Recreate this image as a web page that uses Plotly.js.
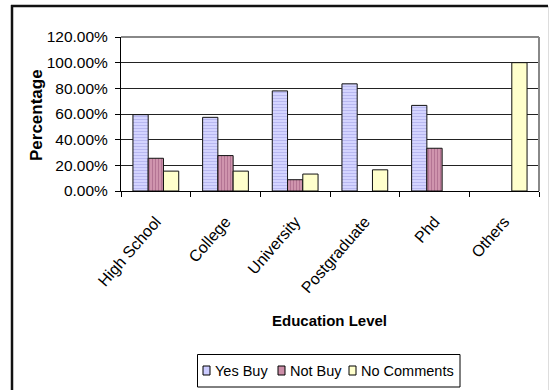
<!DOCTYPE html>
<html><head><meta charset="utf-8">
<script src="https://cdn.plot.ly/plotly-3.0.1.min.js"></script>
<style>html,body{margin:0;padding:0;background:#fff}#chart{width:549px;height:390px}</style>
</head><body><div id="chart"></div>
<script>
const categories = ["High School", "College", "University", "Postgraduate", "Phd", "Others"];
const yesBuy = [0.595, 0.574, 0.780, 0.835, 0.667, null];
const notBuy = [0.255, 0.276, 0.088, null, 0.333, null];
const noComments = [0.155, 0.155, 0.132, 0.165, null, 1.0];
const seriesNames = ["Yes Buy", "Not Buy", "No Comments"];
const seriesColors = ["#ccccff", "#cc8ea8", "#ffffcc"];
const yTicks = [0, 0.2, 0.4, 0.6, 0.8, 1.0, 1.2];

const F = "Liberation Sans, Arial, sans-serif";
const L = 121, R = 539, T = 37, B = 191;
const px = v => (v - L) / (R - L);
const py = v => (B - v) / (B - T);

const data = [
  {type:'bar', name:seriesNames[0], x:categories, y:yesBuy,
   marker:{color:seriesColors[0], line:{color:'#111', width:1}, pattern:{shape:'-', fgcolor:'#b4b4ee', bgcolor:'#d4d4ff', size:3, solidity:0.3}}},
  {type:'bar', name:seriesNames[1], x:categories, y:notBuy,
   marker:{color:seriesColors[1], line:{color:'#111', width:1}, pattern:{shape:'|', fgcolor:'#b07090', bgcolor:'#cf94ad', size:3, solidity:0.3}}},
  {type:'bar', name:seriesNames[2], x:categories, y:noComments,
   marker:{color:seriesColors[2], line:{color:'#111', width:1}}}
];

// manual legend (box, swatches, labels)
const legendX = [203, 278, 349];
const legendTextX = [215, 290, 361];
const shapes = [
  {type:'line', xref:'paper', yref:'paper', x0:0, x1:1, y0:1, y1:1, line:{color:'#888', width:2}},
  {type:'line', xref:'paper', yref:'paper', x0:1, x1:1, y0:0, y1:1, line:{color:'#888', width:2}},
  {type:'line', xref:'paper', yref:'paper', x0:px(12), x1:px(12), y0:py(5), y1:py(400), line:{color:'#111', width:2.5}},
  {type:'line', xref:'paper', yref:'paper', x0:px(11), x1:px(548), y0:py(6), y1:py(6), line:{color:'#111', width:2.5}},
  {type:'line', xref:'paper', yref:'paper', x0:px(548.5), x1:px(548.5), y0:py(6), y1:py(400), line:{color:'#ddd', width:1}},
  {type:'rect', xref:'paper', yref:'paper', x0:px(197.5), x1:px(460), y0:py(354.5), y1:py(387), line:{color:'#000', width:1}, fillcolor:'#fff'}
];
const annotations = [
  {text:'<b>Education Level</b>', xref:'paper', yref:'paper', x:px(329), y:py(320),
   xanchor:'center', yanchor:'middle', showarrow:false, font:{family:F, size:15, color:'#000'}},
  {text:'<b>Percentage</b>', xref:'paper', yref:'paper', x:px(36.5), y:py(115.5), textangle:-90,
   xanchor:'center', yanchor:'middle', showarrow:false, font:{family:F, size:17, color:'#000'}}
];
seriesNames.forEach((n, i) => {
  shapes.push({type:'rect', xref:'paper', yref:'paper', x0:px(legendX[i]), x1:px(legendX[i] + 7), y0:py(366), y1:py(375),
    line:{color:'#000', width:1}, fillcolor:seriesColors[i]});
  annotations.push({text:n, xref:'paper', yref:'paper', x:px(legendTextX[i] - 2), y:py(370.5), xanchor:'left', yanchor:'middle',
    showarrow:false, font:{family:F, size:14.5, color:'#000'}});
});

const layout = {
  width:549, height:390,
  margin:{l:L, r:549 - R, t:T, b:390 - B},
  paper_bgcolor:'#fff', plot_bgcolor:'#fff',
  font:{family:F, size:12, color:'#000'},
  barmode:'group', bargap:0.343, bargroupgap:0,
  showlegend:false,
  xaxis:{type:'category', tickson:'boundaries', ticks:'outside', ticklen:5, tickcolor:'#000',
    tickangle:-49, ticklabelstandoff:14, showline:true, linecolor:'#000', linewidth:1, showgrid:false,
    tickfont:{family:F, size:16, color:'#000'}, range:[-0.5, 5.5]},
  yaxis:{range:[0,1.2], tickvals:yTicks, tickformat:'.2%', ticks:'outside', ticklen:5, tickcolor:'#000',
    ticklabelstandoff:4,
    showline:true, linecolor:'#000', linewidth:1, showgrid:true, gridcolor:'#222', gridwidth:1,
    zeroline:false, tickfont:{family:F, size:15.5, color:'#000'}},
  annotations: annotations,
  shapes: shapes
};
Plotly.newPlot('chart', data, layout, {staticPlot:true, displayModeBar:false});
</script></body></html>
